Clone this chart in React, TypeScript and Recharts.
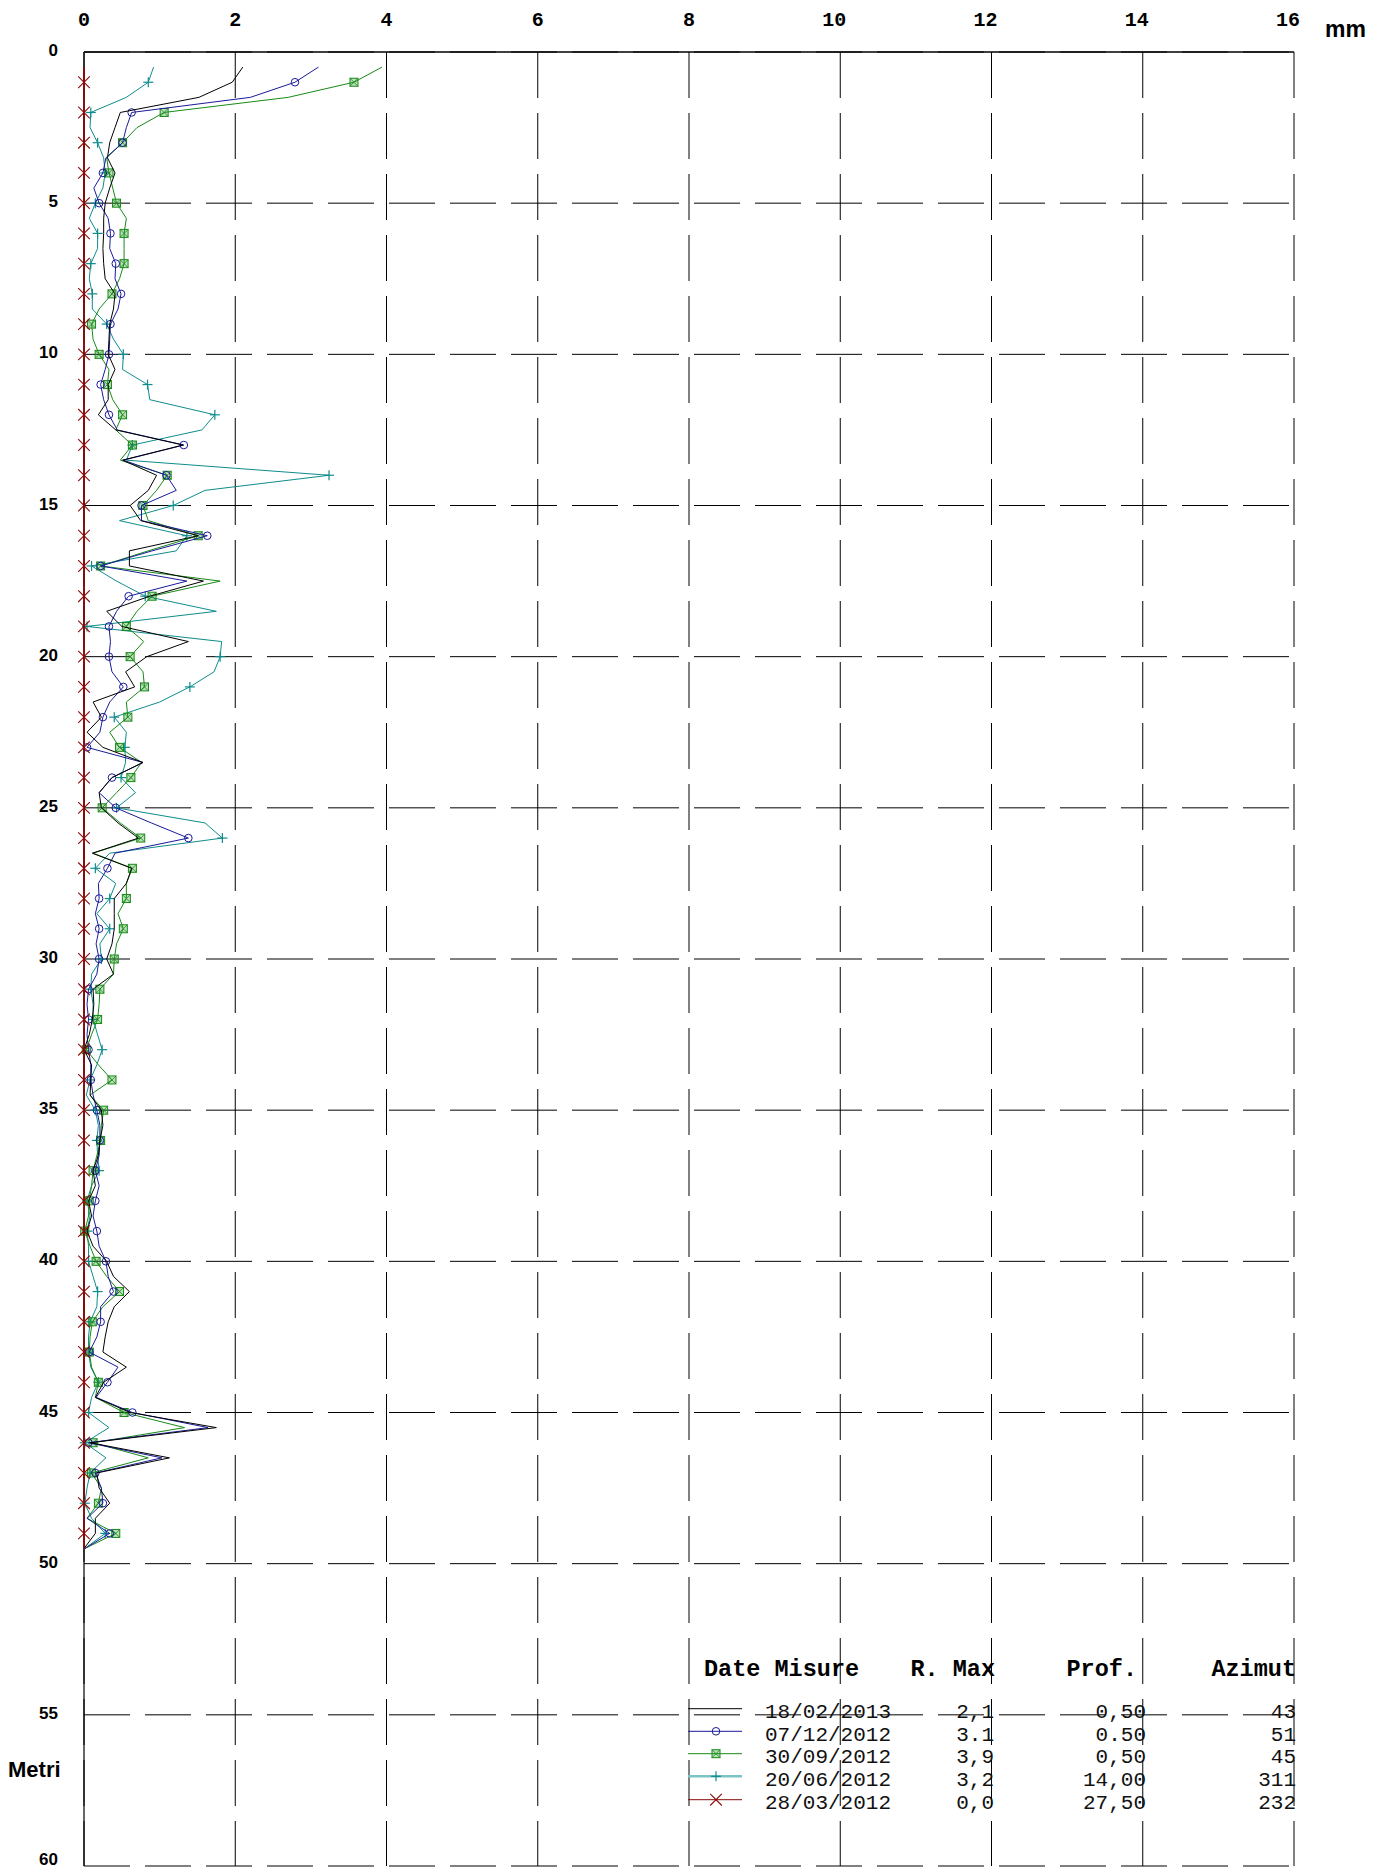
import React from 'react';
import { ScatterChart, Scatter, XAxis, YAxis, CartesianGrid, Legend } from 'recharts';

// Depth (m) of each reading
const depths = [
  0.5, 1, 1.5, 2, 2.5, 3, 3.5, 4, 4.5, 5,
  5.5, 6, 6.5, 7, 7.5, 8, 8.5, 9, 9.5, 10,
  10.5, 11, 11.5, 12, 12.5, 13, 13.5, 14, 14.5, 15,
  15.5, 16, 16.5, 17, 17.5, 18, 18.5, 19, 19.5, 20,
  20.5, 21, 21.5, 22, 22.5, 23, 23.5, 24, 24.5, 25,
  25.5, 26, 26.5, 27, 27.5, 28, 28.5, 29, 29.5, 30,
  30.5, 31, 31.5, 32, 32.5, 33, 33.5, 34, 34.5, 35,
  35.5, 36, 36.5, 37, 37.5, 38, 38.5, 39, 39.5, 40,
  40.5, 41, 41.5, 42, 42.5, 43, 43.5, 44, 44.5, 45,
  45.5, 46, 46.5, 47, 47.5, 48, 48.5, 49, 49.5,
];

// Displacement (mm) per date
const s20130218 = [
  2.1, 1.96, 1.52, 0.48, 0.41, 0.34, 0.31, 0.41, 0.34, 0.28,
  0.26, 0.26, 0.25, 0.26, 0.28, 0.41, 0.39, 0.34, 0.33, 0.32,
  0.41, 0.32, 0.32, 0.19, 0.42, 1.31, 0.51, 0.96, 0.85, 0.61,
  0.75, 1.51, 0.6, 0.6, 1.58, 0.87, 0.3, 0.5, 1.38, 0.83,
  0.55, 0.67, 0.12, 0.23, 0.04, 0.25, 0.78, 0.37, 0.2, 0.23,
  0.45, 0.72, 0.11, 0.63, 0.56, 0.4, 0.4, 0.4, 0.37, 0.3,
  0.39, 0.12, 0.13, 0.11, 0.07, 0.0, 0.1, 0.09, 0.08, 0.23,
  0.25, 0.21, 0.19, 0.12, 0.15, 0.06, 0.1, 0.04, 0.12, 0.3,
  0.39, 0.6, 0.4, 0.32, 0.28, 0.25, 0.56, 0.26, 0.15, 0.61,
  1.75, 0.08, 1.13, 0.17, 0.2, 0.34, 0.15, 0.15, 0.0,
];
const s20121207 = [
  3.1, 2.79, 2.2, 0.63, 0.56, 0.51, 0.29, 0.25, 0.13, 0.2,
  0.32, 0.35, 0.34, 0.42, 0.41, 0.49, 0.45, 0.35, 0.34, 0.33,
  0.28, 0.22, 0.26, 0.33, 0.44, 1.32, 0.52, 1.09, 1.22, 0.76,
  0.76, 1.63, 0.9, 0.22, 1.36, 0.59, 0.43, 0.33, 0.35, 0.33,
  0.37, 0.52, 0.34, 0.25, 0.21, 0.04, 0.78, 0.37, 0.2, 0.42,
  0.89, 1.38, 0.41, 0.31, 0.19, 0.2, 0.15, 0.2, 0.16, 0.2,
  0.17, 0.06, 0.04, 0.06, 0.04, 0.06, 0.09, 0.09, 0.12, 0.17,
  0.21, 0.21, 0.2, 0.15, 0.2, 0.15, 0.12, 0.17, 0.2, 0.29,
  0.32, 0.39, 0.22, 0.22, 0.17, 0.07, 0.45, 0.31, 0.16, 0.64,
  1.64, 0.06, 1.03, 0.15, 0.23, 0.25, 0.04, 0.34, 0.01,
];
const s20120930 = [
  3.94, 3.57, 2.7, 1.06, 0.7, 0.51, 0.3, 0.33, 0.38, 0.43,
  0.56, 0.53, 0.53, 0.53, 0.47, 0.37, 0.2, 0.1, 0.12, 0.2,
  0.33, 0.31, 0.38, 0.51, 0.42, 0.64, 0.48, 1.1, 0.96, 0.78,
  0.85, 1.51, 0.85, 0.22, 1.8, 0.9, 0.7, 0.56, 0.79, 0.61,
  0.78, 0.8, 0.56, 0.58, 0.34, 0.47, 0.76, 0.62, 0.43, 0.24,
  0.48, 0.75, 0.12, 0.64, 0.56, 0.56, 0.45, 0.52, 0.43, 0.4,
  0.39, 0.21, 0.2, 0.18, 0.1, 0.03, 0.19, 0.37, 0.08, 0.26,
  0.23, 0.22, 0.17, 0.12, 0.1, 0.07, 0.06, 0.01, 0.08, 0.16,
  0.3, 0.47, 0.25, 0.11, 0.08, 0.07, 0.1, 0.19, 0.15, 0.53,
  1.33, 0.12, 0.85, 0.1, 0.23, 0.19, 0.04, 0.42, 0.01,
];
const s20120620 = [
  0.92, 0.85, 0.56, 0.09, 0.08, 0.18, 0.26, 0.28, 0.25, 0.15,
  0.07, 0.18, 0.18, 0.09, 0.07, 0.11, 0.11, 0.3, 0.39, 0.52,
  0.51, 0.84, 0.87, 1.73, 1.56, 0.64, 0.56, 3.24, 1.6, 1.18,
  0.47, 1.36, 1.22, 0.1, 0.43, 0.81, 1.75, 0.04, 1.82, 1.8,
  1.72, 1.4, 1.0, 0.4, 0.56, 0.54, 0.55, 0.49, 0.68, 0.43,
  1.6, 1.83, 0.34, 0.15, 0.42, 0.34, 0.17, 0.34, 0.21, 0.23,
  0.1, 0.09, 0.12, 0.12, 0.18, 0.24, 0.17, 0.08, 0.03, 0.15,
  0.19, 0.17, 0.18, 0.2, 0.1, 0.04, 0.08, 0.04, 0.06, 0.06,
  0.12, 0.18, 0.17, 0.08, 0.06, 0.06, 0.09, 0.19, 0.1, 0.06,
  0.33, 0.01, 0.29, 0.08, 0.04, 0.01, 0.1, 0.28, 0.01,
];
const s20120328 = [
  0, 0, 0, 0, 0, 0, 0, 0, 0, 0,
  0, 0, 0, 0, 0, 0, 0, 0, 0, 0,
  0, 0, 0, 0, 0, 0, 0, 0, 0, 0,
  0, 0, 0, 0, 0, 0, 0, 0, 0, 0,
  0, 0, 0, 0, 0, 0, 0, 0, 0, 0,
  0, 0, 0, 0, 0, 0, 0, 0, 0, 0,
  0, 0, 0, 0, 0, 0, 0, 0, 0, 0,
  0, 0, 0, 0, 0, 0, 0, 0, 0, 0,
  0, 0, 0, 0, 0, 0, 0, 0, 0, 0,
  0, 0, 0, 0, 0, 0, 0, 0, 0,
];

// Axis ticks
const mmTicks = [0, 2, 4, 6, 8, 10, 12, 14, 16];
const depthTicks = [0, 5, 10, 15, 20, 25, 30, 35, 40, 45, 50, 55, 60];

// Legend table
const legendDates = ['18/02/2013', '07/12/2012', '30/09/2012', '20/06/2012', '28/03/2012'];
const legendRMax = ['2,1', '3.1', '3,9', '3,2', '0,0'];
const legendProf = ['0,50', '0.50', '0,50', '14,00', '27,50'];
const legendAzimut = ['43', '51', '45', '311', '232'];

type MarkerKind = 'none' | 'circle' | 'square' | 'plus' | 'cross';

const seriesDefs: { name: string; values: number[]; color: string; marker: MarkerKind; width: number }[] = [
  { name: '20/06/2012', values: s20120620, color: '#0f8c8c', marker: 'plus', width: 1 },
  { name: '30/09/2012', values: s20120930, color: '#178a17', marker: 'square', width: 1 },
  { name: '07/12/2012', values: s20121207, color: '#1a1a9a', marker: 'circle', width: 1 },
  { name: '18/02/2013', values: s20130218, color: '#000000', marker: 'none', width: 1 },
  { name: '28/03/2012', values: s20120328, color: '#8b0a0a', marker: 'cross', width: 1.8 },
];

const legendOrder: { color: string; marker: MarkerKind; width: number }[] = [
  { color: '#000000', marker: 'none', width: 1 },
  { color: '#1a1a9a', marker: 'circle', width: 1 },
  { color: '#178a17', marker: 'square', width: 1 },
  { color: '#7cc3c3', marker: 'plus', width: 2.5 },
  { color: '#8b0a0a', marker: 'cross', width: 1 },
];

function Marker({ kind, cx, cy, color }: { kind: MarkerKind; cx: number; cy: number; color: string }) {
  if (kind === 'circle') {
    return <circle cx={cx} cy={cy} r={3.8} fill="none" stroke={color} strokeWidth={1} />;
  }
  if (kind === 'square') {
    const h = 4;
    return (
      <g>
        <rect x={cx - h} y={cy - h} width={2 * h} height={2 * h} fill="rgba(30,150,30,0.3)" stroke={color} strokeWidth={1} />
        <line x1={cx - h} y1={cy - h} x2={cx + h} y2={cy + h} stroke={color} strokeWidth={0.8} />
        <line x1={cx - h} y1={cy + h} x2={cx + h} y2={cy - h} stroke={color} strokeWidth={0.8} />
      </g>
    );
  }
  if (kind === 'plus') {
    const h = 5;
    return (
      <g>
        <line x1={cx - h} y1={cy} x2={cx + h} y2={cy} stroke={color} strokeWidth={1.2} />
        <line x1={cx} y1={cy - h} x2={cx} y2={cy + h} stroke={color} strokeWidth={1.2} />
      </g>
    );
  }
  if (kind === 'cross') {
    const h = 5.8;
    return (
      <g>
        <line x1={cx - h} y1={cy - h} x2={cx + h} y2={cy + h} stroke={color} strokeWidth={1.1} />
        <line x1={cx - h} y1={cy + h} x2={cx + h} y2={cy - h} stroke={color} strokeWidth={1.1} />
      </g>
    );
  }
  return <g />;
}

const monoFont = '"Liberation Mono", "Courier New", monospace';
const sansFont = '"Liberation Sans", Arial, sans-serif';

function LegendTable() {
  const rowY = [1711.7, 1734.3, 1756.7, 1779.3, 1802.7];
  return (
    <svg
      width={1383}
      height={1870}
      style={{ position: 'absolute', left: 0, top: 0, overflow: 'visible', pointerEvents: 'none' }}
    >
      <text x={1325} y={37} fontFamily={sansFont} fontWeight="bold" fontSize={23} fill="#000">mm</text>
      <text x={8} y={1777} fontFamily={sansFont} fontWeight="bold" fontSize={22} fill="#000">Metri</text>
      <g fontFamily={monoFont} fontWeight="bold" fontSize={23.5} fill="#000">
        <text x={704} y={1676}>Date Misure</text>
        <text x={995} y={1676} textAnchor="end">R. Max</text>
        <text x={1137} y={1676} textAnchor="end">Prof.</text>
        <text x={1296} y={1676} textAnchor="end">Azimut</text>
      </g>
      {legendDates.map((d, i) => {
        const y = rowY[i];
        const st = legendOrder[i];
        return (
          <g key={d}>
            <line x1={688} x2={742} y1={y - 3} y2={y - 3} stroke={st.color} strokeWidth={st.width} />
            <Marker kind={st.marker} cx={716} cy={y - 3} color={st.marker === 'plus' ? '#0f8c8c' : st.color} />
            <g fontFamily={monoFont} fontSize={21} fill="#111">
              <text x={765} y={y + 6.5}>{d}</text>
              <text x={994} y={y + 6.5} textAnchor="end">{legendRMax[i]}</text>
              <text x={1146} y={y + 6.5} textAnchor="end">{legendProf[i]}</text>
              <text x={1296} y={y + 6.5} textAnchor="end">{legendAzimut[i]}</text>
            </g>
          </g>
        );
      })}
    </svg>
  );
}

const XTick = (props: any) => {
  const { x, payload } = props;
  const label = String(payload.value);
  const extra = label.length > 1 ? 6 : 0;
  return (
    <text
      x={x + extra}
      y={26}
      textAnchor={label.length > 1 ? 'end' : 'middle'}
      fontFamily={monoFont}
      fontWeight="bold"
      fontSize={20}
      fill="#000"
    >
      {label}
    </text>
  );
};

const YTick = (props: any) => {
  const { y, payload } = props;
  return (
    <text x={58} y={y + 4} textAnchor="end" fontFamily={sansFont} fontWeight="bold" fontSize={17} fill="#000">
      {payload.value}
    </text>
  );
};

export default function App() {
  return (
    <div style={{ position: 'absolute', left: 0, top: 0, width: 1383, height: 1870, background: '#fff' }}>
      <ScatterChart width={1383} height={1870} margin={{ top: 0, right: 89, bottom: 4, left: 0 }}>
        <CartesianGrid stroke="#000" strokeWidth={1} strokeDasharray="46 15" />
        <XAxis
          type="number"
          dataKey="mm"
          orientation="top"
          domain={[0, 16]}
          ticks={mmTicks}
          height={52}
          axisLine={{ stroke: '#000', strokeWidth: 1.5 }}
          tickLine={false}
          tick={XTick}
        />
        <YAxis
          type="number"
          dataKey="depth"
          domain={[0, 60]}
          reversed
          ticks={depthTicks}
          width={84}
          axisLine={{ stroke: '#000', strokeWidth: 1.2 }}
          tickLine={false}
          tick={YTick}
        />
        {seriesDefs.map((s) => (
          <Scatter
            key={s.name}
            name={s.name}
            data={depths.map((d, i) => ({ depth: d, mm: s.values[i] }))}
            fill={s.color}
            line={{ stroke: s.color, strokeWidth: s.width }}
            lineType="joint"
            isAnimationActive={false}
            shape={(p: any) => {
              const depth = p.payload ? p.payload.depth : 0;
              if (!Number.isInteger(depth)) return <g />;
              return <Marker kind={s.marker} cx={p.cx} cy={p.cy} color={s.color} />;
            }}
          />
        ))}
        <Legend
          content={() => <LegendTable />}
          wrapperStyle={{ position: 'absolute', left: 0, top: 0, width: 0, height: 0, overflow: 'visible' }}
        />
      </ScatterChart>
    </div>
  );
}
